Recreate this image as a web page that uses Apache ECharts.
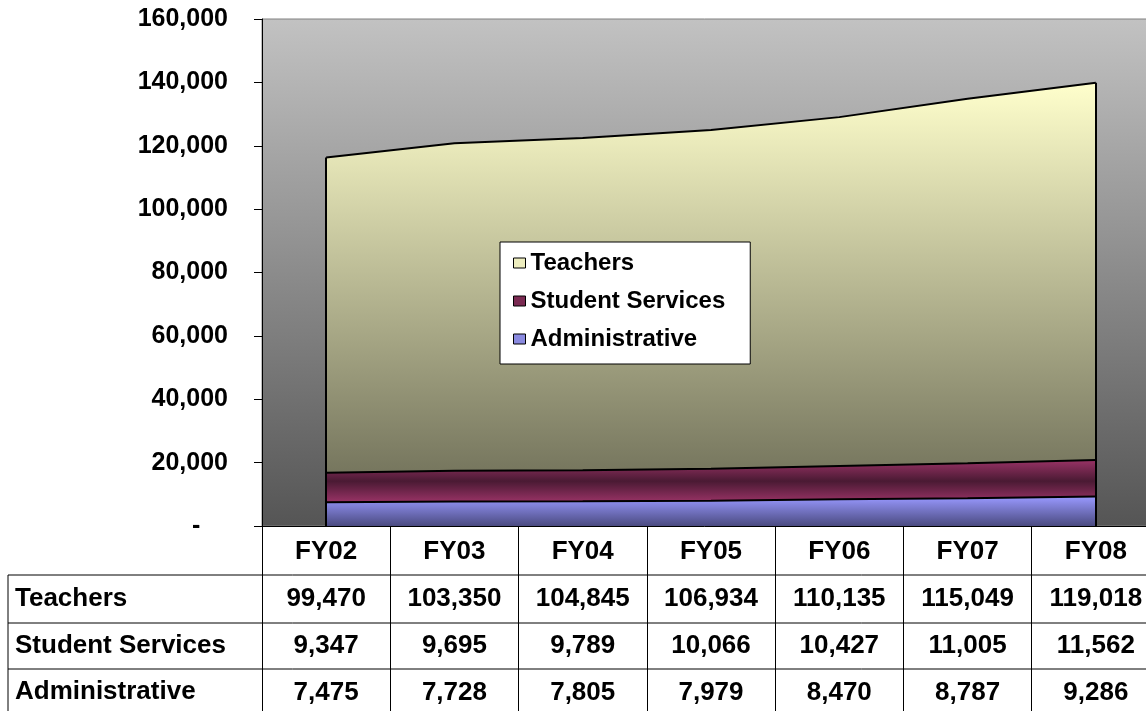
<!DOCTYPE html>
<html>
<head>
<meta charset="utf-8">
<script src="https://cdn.jsdelivr.net/npm/echarts@6/dist/echarts.min.js"></script>
<style>
  html, body { margin: 0; padding: 0; background: #fff; }
  #chart { width: 1146px; height: 711px; }
</style>
</head>
<body>
<div id="chart"></div>
<script>
// data
var years = ['FY02', 'FY03', 'FY04', 'FY05', 'FY06', 'FY07', 'FY08'];
var teachers = [99470, 103350, 104845, 106934, 110135, 115049, 119018];
var studentServices = [9347, 9695, 9789, 10066, 10427, 11005, 11562];
var administrative = [7475, 7728, 7805, 7979, 8470, 8787, 9286];
var rowNames = ['Teachers', 'Student Services', 'Administrative'];
var yTicks = { min: 0, max: 160000, step: 20000 };

var font = '"Liberation Sans", Arial, sans-serif';
var fmt = function (v) { return v.toLocaleString('en-US'); };

var myChart = echarts.init(document.getElementById('chart'));

function vgrad(stops) {
    return new echarts.graphic.LinearGradient(0, 0, 0, 1, stops.map(function (s) {
        return { offset: s[0], color: s[1] };
    }));
}

// totals for the side edges of the stacked block
var lastIdx = years.length - 1;
var totalFirst = teachers[0] + studentServices[0] + administrative[0];
var totalLast = teachers[lastIdx] + studentServices[lastIdx] + administrative[lastIdx];

// table row lines + row headers
var tableTop = 526;
var rowLines = [575, 623, 669];
var rowCenters = [599, 646, 692];
var graphics = [];
rowLines.forEach(function (y) {
    graphics.push({ type: 'line', shape: { x1: 8, y1: y, x2: 1146, y2: y },
        style: { stroke: '#000', lineWidth: 1 } });
});
graphics.push({ type: 'line', shape: { x1: 8, y1: rowLines[0], x2: 8, y2: 711 },
    style: { stroke: '#000', lineWidth: 1 } });
rowNames.forEach(function (n, i) {
    graphics.push({ type: 'text', left: 15, top: rowCenters[i] - 13,
        style: { text: n, font: 'bold 26px ' + font, fill: '#000' } });
});

var option = {
    animation: false,
    grid: {
        left: 262, top: 19, right: -14, bottom: 711 - tableTop,
        outerBoundsMode: 'none',
        show: true,
        backgroundColor: vgrad([[0, '#c2c2c2'], [1, '#555555']]),
        borderColor: '#808080', borderWidth: 1
    },
    legend: {
        orient: 'vertical',
        left: 500, top: 242,
        padding: [9, 25, 13, 13],
        itemGap: 14,
        itemWidth: 12, itemHeight: 10,
        itemTextGap: 12,
        backgroundColor: '#fff',
        borderColor: '#000', borderWidth: 1,
        textStyle: { fontFamily: font, fontWeight: 'bold', fontSize: 24, color: '#000' },
        data: [
            { name: 'Teachers', icon: 'rect', itemStyle: { color: '#eeeebf', borderColor: '#000', borderWidth: 1 } },
            { name: 'Student Services', icon: 'rect', itemStyle: { color: '#7a2a52', borderColor: '#000', borderWidth: 1 } },
            { name: 'Administrative', icon: 'rect', itemStyle: { color: '#8a8ae0', borderColor: '#000', borderWidth: 1 } }
        ]
    },
    xAxis: {
        type: 'category',
        data: years,
        boundaryGap: true,
        axisLine: { lineStyle: { color: '#000', width: 1 } },
        axisTick: { show: true, length: 711 - tableTop, interval: 0, lineStyle: { color: '#000', width: 1 } },
        axisLabel: {
            interval: 0,
            margin: 2,
            color: '#000',
            fontFamily: font, fontWeight: 'bold', fontSize: 26,
            lineHeight: 47,
            formatter: function (v, i) {
                return [v, fmt(teachers[i]), fmt(studentServices[i]), fmt(administrative[i])].join('\n');
            }
        },
        splitLine: { show: false }
    },
    yAxis: {
        type: 'value',
        min: yTicks.min, max: yTicks.max, interval: yTicks.step,
        axisLine: { show: true, lineStyle: { color: '#000', width: 1 } },
        axisTick: { show: true, length: 8, lineStyle: { color: '#000' } },
        axisLabel: {
            margin: 34,
            color: '#000',
            fontFamily: font, fontWeight: 'bold', fontSize: 25,
            formatter: function (v) { return v === 0 ? '-    ' : fmt(v); }
        },
        splitLine: { show: false }
    },
    series: [
        {
            name: 'Administrative', type: 'line', stack: 'total',
            data: administrative, symbol: 'none',
            lineStyle: { color: '#000', width: 2 },
            areaStyle: { color: vgrad([[0, '#9999ff'], [1, '#4a4a80']]), opacity: 1 }
        },
        {
            name: 'Student Services', type: 'line', stack: 'total',
            data: studentServices, symbol: 'none',
            lineStyle: { color: '#000', width: 2 },
            areaStyle: { color: vgrad([[0, '#993366'], [0.5, '#4a1a33'], [1, '#993366']]), opacity: 1 }
        },
        {
            name: 'Teachers', type: 'line', stack: 'total',
            data: teachers, symbol: 'none',
            lineStyle: { color: '#000', width: 2 },
            areaStyle: { color: vgrad([[0, '#ffffcc'], [1, '#76765e']]), opacity: 1 },
            markLine: {
                silent: true, symbol: 'none', label: { show: false },
                lineStyle: { color: '#000', width: 2, type: 'solid' },
                data: [
                    [{ coord: [years[0], 0] }, { coord: [years[0], totalFirst] }],
                    [{ coord: [years[lastIdx], 0] }, { coord: [years[lastIdx], totalLast] }]
                ]
            }
        }
    ],
    graphic: graphics
};

myChart.setOption(option);
</script>
</body>
</html>
